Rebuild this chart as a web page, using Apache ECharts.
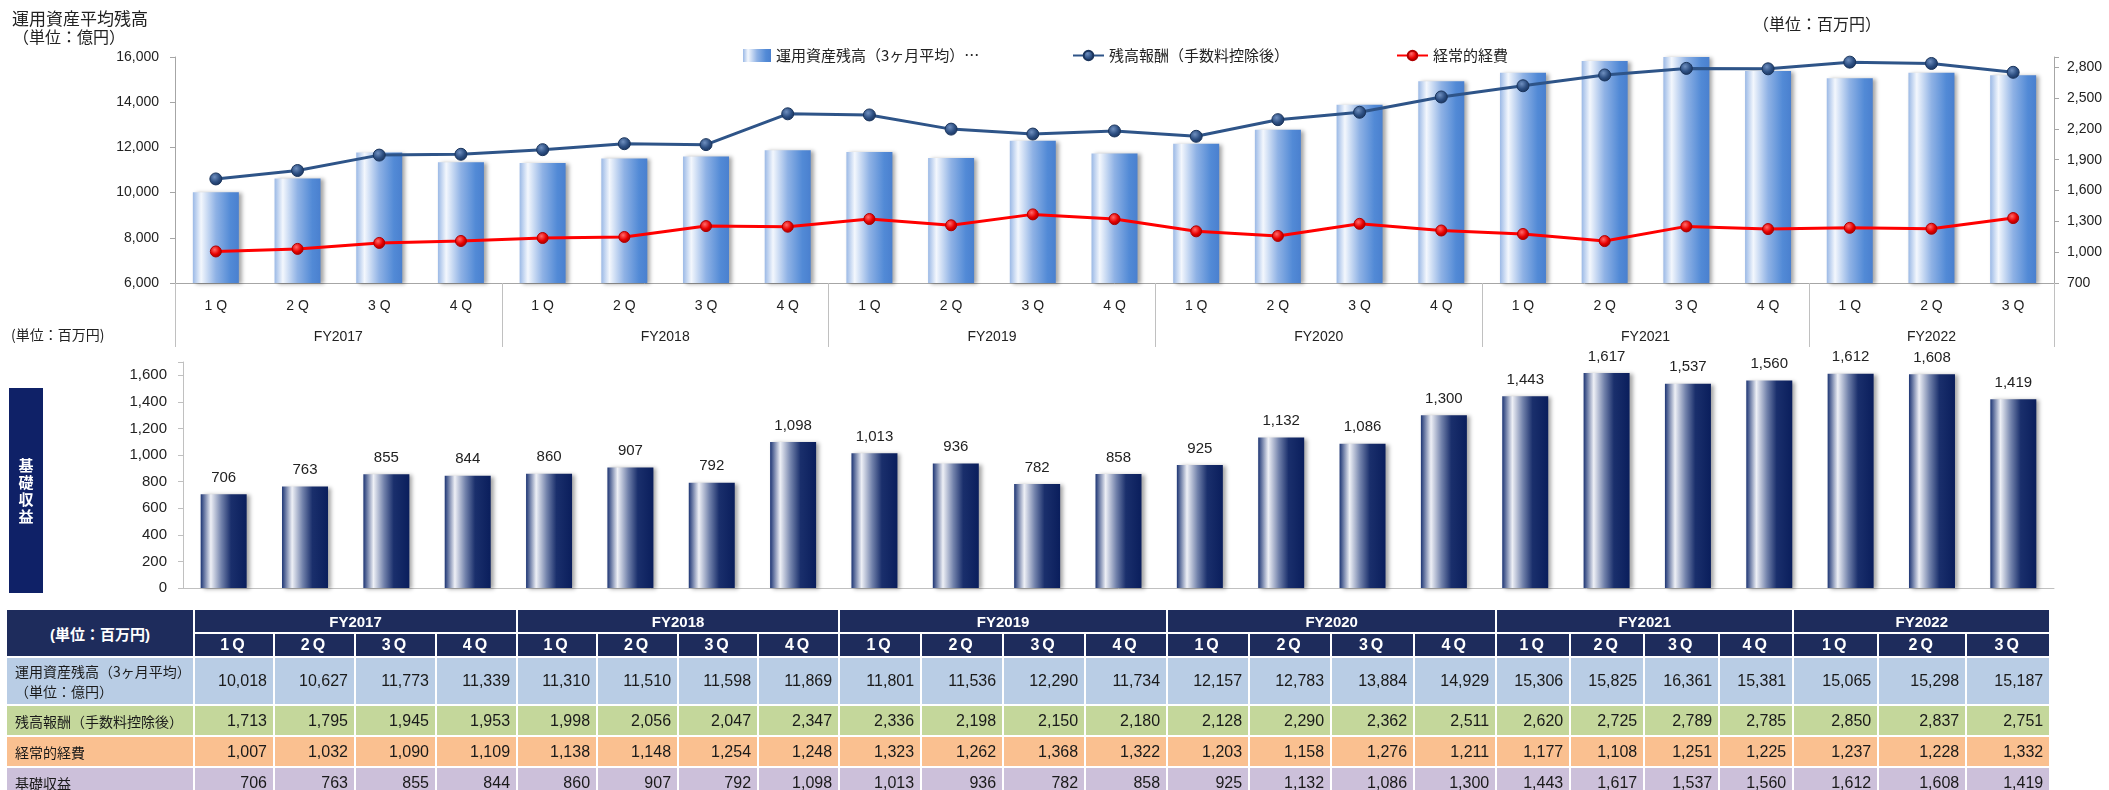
<!DOCTYPE html>
<html><head><meta charset="utf-8">
<script src="https://cdn.jsdelivr.net/npm/echarts@6/dist/echarts.min.js"></script>
<style>
html,body{margin:0;padding:0;background:#fff;}
#wrap{position:relative;width:2109px;height:790px;overflow:hidden;}
#chart{position:absolute;left:0;top:0;width:2109px;height:790px;}
#tbl{position:absolute;left:5px;top:608px;border-collapse:collapse;table-layout:fixed;font-family:"Liberation Sans","Noto Sans CJK JP",sans-serif;color:#1a1a1a;}
#tbl th,#tbl td{border:2px solid #fff;padding:0;overflow:hidden;white-space:nowrap;}
#tbl th{background:#1e2c5c;color:#fff;text-align:center;}
#tbl tr.h1{height:24px;}
#tbl tr.h2{height:24px;}
#tbl tr.h1 th{font-weight:bold;font-size:15px;}
#tbl tr.h2 th{font-weight:bold;font-size:16px;letter-spacing:3px;}
#tbl th.unit{font-size:12px;letter-spacing:0;}
#tbl td.lbl{text-align:left;padding-left:8px;font-size:14px;font-family:"Noto Sans CJK JP",sans-serif;line-height:20px;}
#tbl td.num{text-align:right;padding-right:6px;font-size:16px;}
#tbl tr.ra{height:48px;}
#tbl tr.rb,#tbl tr.rc,#tbl tr.rd{height:31px;}
#tbl tr.ra td{background:#b9cde5;}
#tbl tr.rb td{background:#c4d79b;}
#tbl tr.rc td{background:#fac090;}
#tbl tr.rd td{background:#ccc0da;}
</style></head>
<body>
<div id="wrap"><div id="chart"></div><table id="tbl"></table></div>
<script>
// ---------------- data ----------------
const years = ['FY2017','FY2018','FY2019','FY2020','FY2021','FY2022'];
const quartersPerYear = [4,4,4,4,4,3];
const quarters = ['1Q','2Q','3Q','4Q','1Q','2Q','3Q','4Q','1Q','2Q','3Q','4Q','1Q','2Q','3Q','4Q','1Q','2Q','3Q','4Q','1Q','2Q','3Q'];
const assetBalance = [10018,10627,11773,11339,11310,11510,11598,11869,11801,11536,12290,11734,12157,12783,13884,14929,15306,15825,16361,15381,15065,15298,15187];
const feeIncome = [1713,1795,1945,1953,1998,2056,2047,2347,2336,2198,2150,2180,2128,2290,2362,2511,2620,2725,2789,2785,2850,2837,2751];
const recurringExpenses = [1007,1032,1090,1109,1138,1148,1254,1248,1323,1262,1368,1322,1203,1158,1276,1211,1177,1108,1251,1225,1237,1228,1332];
const baseProfit = [706,763,855,844,860,907,792,1098,1013,936,782,858,925,1132,1086,1300,1443,1617,1537,1560,1612,1608,1419];

const assetName = '運用資産残高（3ヶ月平均）（単位：億円）';
const feeName = '残高報酬（手数料控除後）';
const expName = '経常的経費';
const baseName = '基礎収益';

// ---------------- helpers ----------------
const fmt = v => Number(v).toLocaleString('en-US');
const FF = '"Liberation Sans","Noto Sans CJK JP",sans-serif';
const JF = '"Noto Sans CJK JP",sans-serif';
const yearBounds = [0];
quartersPerYear.forEach(n => yearBounds.push(yearBounds[yearBounds.length-1] + n));
const yearCenters = years.map((y,i) => (yearBounds[i] + yearBounds[i+1]) / 2);

const chart = echarts.init(document.getElementById('chart'), null, {renderer:'canvas'});

const topBarGrad = {type:'linear',x:0,y:0,x2:1,y2:0,colorStops:[
  {offset:0,color:'#9bb9e6'},{offset:0.18,color:'#f3f7fd'},{offset:0.5,color:'#8fb2e5'},{offset:0.82,color:'#528ad6'},{offset:1,color:'#4a80cf'}]};
const botBarGrad = {type:'linear',x:0,y:0,x2:1,y2:0,colorStops:[
  {offset:0,color:'#1d3574'},{offset:0.22,color:'#eef0f6'},{offset:0.45,color:'#7282ab'},{offset:0.66,color:'#1a2f6c'},{offset:1,color:'#0a1e5c'}]};
const blueDot = {type:'radial',x:0.4,y:0.35,r:0.65,colorStops:[{offset:0,color:'#6f8fbf'},{offset:0.6,color:'#2d4f82'},{offset:1,color:'#1a3560'}]};
const redDot = {type:'radial',x:0.4,y:0.35,r:0.65,colorStops:[{offset:0,color:'#ff6a6a'},{offset:0.6,color:'#e80000'},{offset:1,color:'#a00000'}]};

const axisGrey = '#a6a6a6';
const option = {
  animation:false,
  textStyle:{fontFamily:FF},
  legend:[
    {left:738,top:43,itemWidth:28,itemHeight:13,icon:'rect',selectedMode:false,data:[assetName],
     formatter:()=> '運用資産残高（3ヶ月平均）…',textStyle:{fontSize:15,color:'#222',fontFamily:JF}},
    {left:1067,top:43,itemWidth:31,itemHeight:12,selectedMode:false,data:[feeName],textStyle:{fontSize:15,color:'#222',fontFamily:JF}},
    {left:1391,top:43,itemWidth:31,itemHeight:12,selectedMode:false,data:[expName],textStyle:{fontSize:15,color:'#222',fontFamily:JF}}
  ],
  grid:[
    {left:175,right:55,top:57,height:226},
    {left:183,right:55,top:362,height:226}
  ],
  xAxis:[
    {type:'category',gridIndex:0,data:quarters,
     axisLine:{lineStyle:{color:axisGrey,width:1}},
     axisTick:{interval:0,length:40,lineStyle:{color:'#c0c0c0'}},
     axisLabel:{interval:0,margin:16,color:'#222',fontSize:14,formatter:q=>q.replace('Q',' Q')}},
    {type:'value',gridIndex:0,min:0,max:yearBounds[yearBounds.length-1],position:'bottom',
     axisLine:{show:false},splitLine:{show:false},
     axisTick:{show:true,length:64,customValues:yearBounds,lineStyle:{color:'#c0c0c0'}},
     axisLabel:{customValues:yearCenters,margin:47,color:'#222',fontSize:14,
       formatter:v=>{const i=yearCenters.indexOf(v);return i>=0?years[i]:'';}}},
    {type:'category',gridIndex:1,data:quarters,
     axisLine:{lineStyle:{color:'#c0c0c0'}},
     axisTick:{interval:0,length:6,lineStyle:{color:'#c0c0c0'}},
     axisLabel:{show:false}}
  ],
  yAxis:[
    {type:'value',gridIndex:0,min:6000,max:16000,interval:2000,
     axisLine:{show:true,lineStyle:{color:axisGrey}},axisTick:{show:true,length:5,lineStyle:{color:axisGrey}},
     splitLine:{show:false},axisLabel:{margin:16,color:'#222',fontSize:14,formatter:v=>fmt(v)}},
    {type:'value',gridIndex:0,position:'right',min:700,max:2900,interval:300,
     axisLine:{show:true,lineStyle:{color:axisGrey}},axisTick:{show:true,length:5,lineStyle:{color:axisGrey}},
     splitLine:{show:false},axisLabel:{margin:13,color:'#222',fontSize:14,formatter:v=>(v>2800?'':fmt(v))}},
    {type:'value',gridIndex:1,min:0,max:1700,interval:200,
     axisLine:{show:true,lineStyle:{color:'#c0c0c0'}},axisTick:{show:true,length:5,lineStyle:{color:'#c0c0c0'}},
     splitLine:{show:false},axisLabel:{margin:16,color:'#222',fontSize:15,formatter:v=>(v>1600?'':fmt(v))}}
  ],
  series:[
    {type:'bar',name:assetName,xAxisIndex:0,yAxisIndex:0,data:assetBalance,barWidth:46,z:2,
     itemStyle:{color:topBarGrad,shadowColor:'rgba(0,0,0,0.35)',shadowBlur:4,shadowOffsetX:3,shadowOffsetY:1}},
    {type:'line',name:feeName,xAxisIndex:0,yAxisIndex:1,data:feeIncome,z:5,
     symbol:'circle',symbolSize:12,lineStyle:{color:'#2e5488',width:3},
     itemStyle:{color:blueDot,borderColor:'#1b355c',borderWidth:1}},
    {type:'line',name:expName,xAxisIndex:0,yAxisIndex:1,data:recurringExpenses,z:5,
     symbol:'circle',symbolSize:11,lineStyle:{color:'#ff0000',width:3},
     itemStyle:{color:redDot,borderColor:'#b00000',borderWidth:1}},
    {type:'bar',name:baseName,xAxisIndex:2,yAxisIndex:2,data:baseProfit,barWidth:46,
     itemStyle:{color:botBarGrad,shadowColor:'rgba(0,0,0,0.35)',shadowBlur:4,shadowOffsetX:3,shadowOffsetY:1},
     label:{show:true,position:'top',distance:9,color:'#222',fontSize:15,formatter:p=>fmt(p.value)}}
  ],
  graphic:[
    {type:'text',left:12,top:10,style:{text:'運用資産平均残高',font:'17px '+JF,fill:'#222'}},
    {type:'text',left:13,top:29,style:{text:'（単位：億円）',font:'16px '+JF,fill:'#222'}},
    {type:'text',left:1753,top:16,style:{text:'（単位：百万円）',font:'16px '+JF,fill:'#222'}},
    {type:'text',left:11,top:328,style:{text:'(単位：百万円)',font:'14px '+JF,fill:'#222'}},
    {type:'rect',shape:{x:9,y:388,width:34,height:205},style:{fill:'#0f2167'}},
    {type:'text',x:26,y:491,style:{text:'基\n礎\n収\n益',font:'bold 15px '+JF,fill:'#fff',align:'center',verticalAlign:'middle',lineHeight:17}}
  ]
};
chart.setOption(option);

// ---------------- table ----------------
const colWidths = [80,81,81,81, 80,81,80,81, 82,82,82,82, 82,82,83,82, 74,74,75,74, 85,88,84];
const rows = [
  {cls:'ra',label:'運用資産残高（3ヶ月平均）<br>（単位：億円）',data:assetBalance},
  {cls:'rb',label:'残高報酬（手数料控除後）',data:feeIncome},
  {cls:'rc',label:'経常的経費',data:recurringExpenses},
  {cls:'rd',label:'基礎収益',data:baseProfit}
];
let h = '<colgroup><col style="width:188px">' + colWidths.map(w=>'<col style="width:'+w+'px">').join('') + '</colgroup>';
h += '<tr class="h1"><th rowspan="2" class="unit">(単位：百万円)</th>' + years.map((y,i)=>'<th colspan="'+quartersPerYear[i]+'">'+y+'</th>').join('') + '</tr>';
h += '<tr class="h2">' + quarters.map(q=>'<th>'+q+'</th>').join('') + '</tr>';
rows.forEach(r=>{
  h += '<tr class="'+r.cls+'"><td class="lbl">'+r.label+'</td>' + r.data.map(v=>'<td class="num">'+fmt(v)+'</td>').join('') + '</tr>';
});
const tbl = document.getElementById('tbl');
tbl.innerHTML = h;
tbl.style.width = (188 + colWidths.reduce((a,b)=>a+b,0)) + 'px';
</script>
</body></html>
